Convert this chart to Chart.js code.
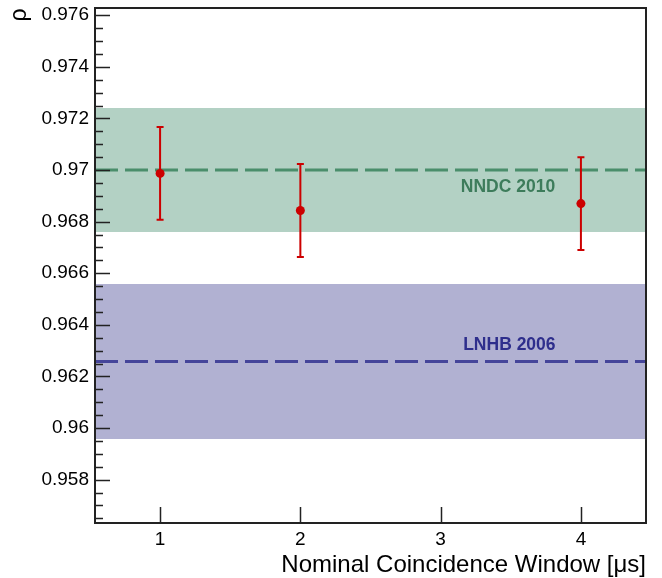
<!DOCTYPE html>
<html>
<head>
<meta charset="utf-8">
<script src="https://cdn.jsdelivr.net/npm/chart.js@4"></script>
<style>
  html, body { margin: 0; padding: 0; background: #fff; }
  #c { display: block; }
</style>
</head>
<body>
<canvas id="c" width="662" height="578"></canvas>
<script>
// measured points
const windows = [1, 2, 4];
const rho = [0.96987, 0.96843, 0.96870];
const rhoErr = [0.0018, 0.0018, 0.0018];

// reference values (central value, half-width of band)
const refNames = ['NNDC 2010', 'LNHB 2006'];
const refValues = [0.9700, 0.96258];
const refErrors = [0.0024, 0.0030];

// axes
const xRange = [0.536, 4.464];
const yRange = [0.95632, 0.97628];
const xTicks = [1, 2, 3, 4];
const yMajorTicks = [0.958, 0.960, 0.962, 0.964, 0.966, 0.968, 0.970, 0.972, 0.974, 0.976];
const yTickLabels = ['0.958', '0.96', '0.962', '0.964', '0.966', '0.968', '0.97', '0.972', '0.974', '0.976'];

const bandFill = ['#b3d1c4', '#b1b1d2'];
const lineCol = ['#4a8e6b', '#45459a'];
const textCol = ['#3d7c5b', '#2e2e8c'];
const textPos = [[3.48, 0.96933], [3.49, 0.96320]];
const red = '#cc0000';
const font = "'Liberation Sans', Arial, Helvetica, sans-serif";

function bandSets(i) {
  return [
    {
      type: 'line', order: 5,
      data: [{x: xRange[0], y: refValues[i] + refErrors[i]}, {x: xRange[1], y: refValues[i] + refErrors[i]}],
      borderWidth: 0, pointRadius: 0, backgroundColor: bandFill[i],
      fill: '+1'
    },
    {
      type: 'line', order: 5,
      data: [{x: xRange[0], y: refValues[i] - refErrors[i]}, {x: xRange[1], y: refValues[i] - refErrors[i]}],
      borderWidth: 0, pointRadius: 0, fill: false
    },
    {
      type: 'line', order: 3,
      data: [{x: xRange[0], y: refValues[i]}, {x: xRange[1], y: refValues[i]}],
      borderColor: lineCol[i], borderWidth: 3, borderDash: [23, 7],
      pointRadius: 0, fill: false
    }
  ];
}

// error bars, frame, inward ticks, titles and band labels
const extras = {
  id: 'extras',
  afterDatasetsDraw(chart) {
    const ctx = chart.ctx;
    const xs = chart.scales.x, ys = chart.scales.y;
    ctx.save();
    ctx.strokeStyle = red;
    ctx.lineWidth = 2;
    for (let i = 0; i < windows.length; i++) {
      const px = xs.getPixelForValue(windows[i]);
      const top = ys.getPixelForValue(rho[i] + rhoErr[i]);
      const bot = ys.getPixelForValue(rho[i] - rhoErr[i]);
      ctx.beginPath();
      ctx.moveTo(px, top); ctx.lineTo(px, bot);
      ctx.moveTo(px - 3.5, top); ctx.lineTo(px + 3.5, top);
      ctx.moveTo(px - 3.5, bot); ctx.lineTo(px + 3.5, bot);
      ctx.stroke();
    }
    ctx.font = 'bold 17.5px ' + font;
    ctx.textAlign = 'center';
    ctx.textBaseline = 'middle';
    for (let i = 0; i < refNames.length; i++) {
      ctx.fillStyle = textCol[i];
      ctx.fillText(refNames[i], xs.getPixelForValue(textPos[i][0]), ys.getPixelForValue(textPos[i][1]));
    }
    ctx.restore();
  },
  afterDraw(chart) {
    const ctx = chart.ctx;
    const a = chart.chartArea;
    const xs = chart.scales.x, ys = chart.scales.y;
    ctx.save();
    ctx.strokeStyle = '#222';
    ctx.lineWidth = 2;
    ctx.strokeRect(a.left, a.top, a.right - a.left, a.bottom - a.top);
    ctx.lineWidth = 1.5;
    ctx.beginPath();
    for (let v = 0.9565; v <= 0.9762; v += 0.0005) {
      const py = Math.round(ys.getPixelForValue(v)) + 0.5;
      const major = yMajorTicks.some(m => Math.abs(m - v) < 1e-6);
      ctx.moveTo(a.left, py);
      ctx.lineTo(a.left + (major ? 15 : 8), py);
    }
    for (const t of xTicks) {
      const px = Math.round(xs.getPixelForValue(t)) + 0.5;
      ctx.moveTo(px, a.bottom);
      ctx.lineTo(px, a.bottom - 16);
    }
    ctx.stroke();

    ctx.fillStyle = '#000';
    ctx.font = '24px ' + font;
    ctx.textAlign = 'right';
    ctx.textBaseline = 'alphabetic';
    ctx.fillText('Nominal Coincidence Window [\u03bcs]', a.right, 572);

    ctx.translate(20, 15);
    ctx.rotate(-Math.PI / 2);
    ctx.font = '23px ' + font;
    ctx.textAlign = 'center';
    ctx.textBaseline = 'middle';
    ctx.fillText('\u03c1', 0, 0);
    ctx.restore();
  }
};

const datasets = [
  {
    type: 'scatter', order: 1,
    data: windows.map((w, i) => ({x: w, y: rho[i]})),
    pointRadius: 4.5, pointBackgroundColor: red, pointBorderColor: red, pointBorderWidth: 0
  }
].concat(bandSets(0), bandSets(1));

new Chart(document.getElementById('c'), {
  type: 'scatter',
  data: { datasets: datasets },
  options: {
    responsive: false,
    animation: false,
    devicePixelRatio: 1,
    layout: { padding: { top: 8, right: 16, left: 0, bottom: 0 } },
    plugins: { legend: { display: false }, tooltip: { enabled: false } },
    scales: {
      x: {
        type: 'linear', min: xRange[0], max: xRange[1],
        grid: { display: false, drawTicks: false },
        border: { display: false },
        afterBuildTicks: s => { s.ticks = xTicks.map(v => ({value: v})); },
        afterFit: s => { s.height = 55; },
        ticks: {
          autoSkip: false, maxRotation: 0, padding: 5, color: '#000',
          font: { family: font, size: 19 },
          callback: v => String(v)
        }
      },
      y: {
        type: 'linear', min: yRange[0], max: yRange[1],
        grid: { display: false, drawTicks: false },
        border: { display: false },
        afterBuildTicks: s => { s.ticks = yMajorTicks.map(v => ({value: v})); },
        afterFit: s => { s.width = 95; s.paddingTop = 0; s.paddingBottom = 0; },
        ticks: {
          autoSkip: false, padding: 6, color: '#000',
          font: { family: font, size: 19, lineHeight: 0.5 },
          callback: (v, i) => yTickLabels[i]
        }
      }
    }
  },
  plugins: [extras]
});
</script>
</body>
</html>
